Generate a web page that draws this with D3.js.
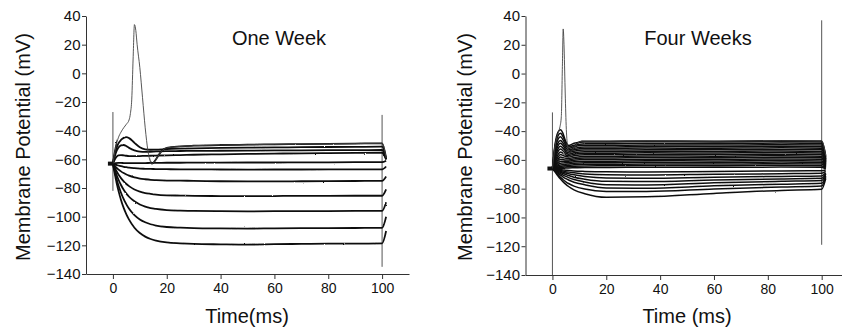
<!DOCTYPE html>
<html>
<head>
<meta charset="utf-8">
<script src="https://cdn.jsdelivr.net/npm/d3@7"></script>
<style>
  body { margin: 0; background: #fff; }
  svg { display: block; font-family: "Liberation Sans", Arial, sans-serif; }
</style>
</head>
<body>
<svg id="chart" width="842" height="328"></svg>
<script>
// ---- One Week: membrane potential (mV) sampled on a shared time grid (ms)
const weekOneTimes = [0, 1, 2, 3, 4, 5, 6, 8, 10, 12, 14, 16, 20, 25, 30, 40, 50, 60, 70, 80, 90, 100, 101.5];
const weekOneTraces = [
  [-63, -54, -49, -46.5, -45, -44.5, -45.2, -48.5, -51.5, -53, -53.3, -53.2, -52.8, -52.5, -52.3, -52, -51.8, -51.7, -51.5, -51.4, -51.3, -51.2, -60],
  [-63, -56, -52, -50.3, -50, -50.8, -52, -53.8, -54.6, -54.8, -54.7, -54.5, -54.3, -54.2, -54.1, -54, -53.9, -53.8, -53.7, -53.6, -53.6, -53.5, -60],
  [-63, -59, -57.2, -57, -57.2, -57.5, -57.7, -57.8, -57.7, -57.6, -57.5, -57.4, -57.2, -57, -56.8, -56.5, -56.2, -56, -55.8, -55.7, -55.5, -55.4, -60],
  [-63, -62.6, -62.5, -62.5, -62.6, -62.7, -62.7, -62.7, -62.6, -62.6, -62.5, -62.5, -62.4, -62.4, -62.3, -62.3, -62.2, -62.2, -62.1, -62.1, -62, -62, -61],
  [-63, -63.7, -64.3, -64.8, -65.2, -65.5, -65.8, -66.2, -66.5, -66.6, -66.7, -66.8, -66.9, -67, -67, -67.1, -67.2, -67.1, -67.1, -67, -67, -67, -65],
  [-63, -65.2, -67, -68.4, -69.6, -70.6, -71.4, -72.6, -73.4, -73.9, -74.3, -74.5, -74.8, -74.9, -75, -75.3, -75.4, -75.4, -75.3, -75.2, -75.1, -75, -72],
  [-63, -67.1, -70.4, -73.1, -75.4, -77.2, -78.7, -81, -82.5, -83.5, -84.1, -84.6, -85.1, -85.3, -85.5, -85.6, -85.7, -85.6, -85.5, -85.5, -85.4, -85.4, -81],
  [-63, -69, -73.9, -77.9, -81.2, -83.9, -86.1, -89.3, -91.5, -93, -94, -94.6, -95.4, -95.8, -96, -96.2, -96.3, -96.2, -96.1, -96.1, -96, -96, -90],
  [-63, -71.1, -77.9, -83.3, -87.8, -91.4, -94.5, -98.9, -101.9, -103.9, -105.3, -106.2, -107.2, -107.7, -108, -108.2, -108.3, -108.1, -108, -108, -107.9, -107.8, -100],
  [-63, -73, -81.5, -88.3, -93.9, -98.4, -102.1, -107.7, -111.4, -113.9, -115.6, -116.7, -118, -118.6, -119, -119.3, -119.5, -119.2, -119, -118.8, -118.8, -118.6, -110]
];
// the trace that fires an action potential, [time, mV]
const weekOneSpike = [
  [0, -63], [1, -52], [2, -45], [3, -41], [4, -38], [5, -35.5], [6, -32.5], [6.5, -28], [7, -18], [7.5, 10],
  [8, 34], [8.5, 30], [9, 20], [10, 4], [11, -17], [12, -38], [13, -54], [14, -62], [14.5, -63], [15, -62.5],
  [16, -60], [17, -57], [18, -54.5], [20, -52], [25, -51], [30, -50.5], [40, -50], [50, -49.8], [60, -49.5],
  [70, -49.4], [80, -49.2], [90, -49], [100, -48.8], [101.5, -59]
];
// stimulus artifacts: [time, top mV, bottom mV]
const weekOneArtifacts = [[0, -27, -82], [100, -29, -135]];
const weekOneHolding = -63;

// ---- Four Weeks
const weekFourTimes = [0, 1, 2, 3, 4, 5, 6, 8, 12, 20, 35, 60, 85, 100, 101.5];
const weekFourTraces = [
  [-66, -49, -41, -39, -42, -47.5, -50, -48.5, -47.5, -47.6, -47.3, -47.5, -47.2, -47.5, -58],
  [-66, -51, -43.5, -41.5, -44, -48.5, -51, -49.8, -48.7, -48.8, -48.5, -48.6, -48.3, -48.6, -59],
  [-66, -53, -46, -44, -46.3, -50, -52, -50.8, -49.8, -49.9, -49.6, -49.7, -49.4, -49.7, -59.5],
  [-66, -55, -48.5, -46.5, -48.5, -51.5, -53, -52, -51, -51, -50.7, -50.8, -50.5, -50.8, -60],
  [-66, -56.5, -50.5, -48.5, -50.2, -53, -54, -53, -52.1, -52.1, -51.8, -51.9, -51.6, -51.9, -60.5],
  [-66, -58, -52.5, -50.5, -52, -54.2, -55, -54, -53.2, -53.2, -52.9, -53, -52.7, -53, -61],
  [-66, -59.5, -54.5, -52.5, -53.8, -55.4, -56, -55.1, -54.3, -54.3, -54, -54.1, -53.8, -54.1, -61.5],
  [-66, -61, -56.5, -54.5, -55.5, -56.6, -57, -56.1, -55.4, -55.4, -55.1, -55.2, -54.9, -55.2, -62],
  [-66, -62, -58.3, -56.3, -57, -57.7, -58, -57.2, -56.5, -56.5, -56.2, -56.3, -56, -56.3, -62.5],
  [-66, -63, -60, -58, -58.5, -58.9, -59, -58.3, -57.6, -57.6, -57.3, -57.4, -57.1, -57.4, -63],
  [-66, -63.6, -61.3, -59.5, -59.8, -60, -60, -59.3, -58.7, -58.7, -58.4, -58.5, -58.2, -58.5, -63.5],
  [-66, -64.2, -62.5, -61, -61, -61, -60.9, -60.3, -59.8, -59.8, -59.5, -59.6, -59.3, -59.6, -64],
  [-66, -64.8, -63.5, -62.3, -62.2, -62, -61.8, -61.3, -60.9, -60.9, -60.6, -60.7, -60.4, -60.7, -64.5],
  [-66, -65.2, -64.3, -63.5, -63.3, -63, -62.8, -62.4, -62, -62, -61.7, -61.8, -61.5, -61.8, -65],
  [-66, -65.5, -65, -64.5, -64.2, -64, -63.8, -63.4, -63.1, -63.1, -62.8, -62.9, -62.6, -62.9, -65.5],
  [-66, -65.8, -65.5, -65.3, -65.1, -64.9, -64.7, -64.4, -64.2, -64.1, -63.9, -64, -63.7, -64, -66],
  [-66, -66, -66, -65.9, -65.8, -65.7, -65.6, -65.5, -65.3, -65.3, -65.1, -65.2, -65, -65.2, -66.5],
  [-66, -66.3, -66.6, -66.8, -67, -67.2, -67.4, -67.7, -68, -68.3, -68.4, -68, -67.7, -67.5, -67],
  [-66, -66.6, -67, -67.4, -67.8, -68.2, -68.5, -69, -69.8, -70.4, -70.5, -70, -69.6, -69.3, -68],
  [-66, -66.8, -67.4, -68, -68.6, -69.1, -69.6, -70.4, -71.5, -72.6, -72.8, -72, -71.5, -71.2, -69],
  [-66, -67, -67.9, -68.7, -69.5, -70.2, -70.9, -72, -73.4, -74.9, -75.1, -74, -73.2, -72.8, -69.5],
  [-66, -67.3, -68.5, -69.6, -70.6, -71.5, -72.3, -73.6, -75.3, -77.2, -77.4, -75.9, -74.9, -74.4, -70],
  [-66, -67.6, -69.2, -70.6, -71.9, -73, -74, -75.5, -77.3, -79.5, -79.7, -78, -76.9, -76.3, -71],
  [-66, -68, -70.2, -72.1, -73.8, -75.2, -76.4, -78.2, -80.3, -81.9, -82, -80.2, -78.8, -78.1, -72],
  [-66, -68.5, -71, -73.3, -75.3, -77, -78.5, -80.8, -83.5, -86, -85.7, -83.3, -81.2, -80.4, -73]
];
const weekFourSpike = [
  [0, -66], [1, -50], [2, -42], [2.8, -37], [3.3, -30], [3.7, 5], [4, 31], [4.3, 20], [4.7, -10], [5.1, -36],
  [5.6, -50], [6.3, -55], [7.5, -53], [9, -49], [11, -47], [20, -47], [35, -46.8], [60, -47], [85, -46.7],
  [100, -46.8], [101.5, -57]
];
const weekFourArtifacts = [[0, -27, -140], [100, 37, -119]];
const weekFourHolding = -66;

const timeTicks = [0, 20, 40, 60, 80, 100];
const voltTicks = [-140, -120, -100, -80, -60, -40, -20, 0, 20, 40];

const svg = d3.select("#chart");

// light grain so the traces look like scanned recordings
const defs = svg.append("defs");
const grain = defs.append("filter").attr("id", "grain")
  .attr("x", "-2%").attr("y", "-10%").attr("width", "104%").attr("height", "120%");
grain.append("feTurbulence").attr("type", "fractalNoise").attr("baseFrequency", 1.1)
  .attr("numOctaves", 1).attr("seed", 7).attr("result", "noise");
grain.append("feDisplacementMap").attr("in", "SourceGraphic").attr("in2", "noise")
  .attr("scale", 1.8).attr("xChannelSelector", "R").attr("yChannelSelector", "G");

function drawPanel(p) {
  const x = d3.scaleLinear().domain([-10, 110]).range(p.xRange);
  const y = d3.scaleLinear().domain([-140, 40]).range(p.yRange);
  const g = svg.append("g");

  // axes
  const xAxis = g.append("g")
    .attr("transform", `translate(0,${p.yRange[0]})`)
    .call(d3.axisBottom(x).tickValues(timeTicks).tickSize(5).tickSizeOuter(0).tickPadding(4));
  const yAxis = g.append("g")
    .attr("transform", `translate(${p.xRange[0]},0)`)
    .call(d3.axisLeft(y).tickValues(voltTicks).tickSize(4).tickSizeOuter(0).tickPadding(1.5));
  [xAxis, yAxis].forEach(a => {
    a.select(".domain").attr("stroke", "#333");
    a.selectAll(".tick line").attr("stroke", "#333");
    a.selectAll("text").attr("fill", "#111");
  });
  xAxis.selectAll("text").style("font-size", "14px");
  yAxis.selectAll("text").style("font-size", "15px");

  // stimulus artifacts
  g.append("g").selectAll("line").data(p.artifacts).join("line")
    .attr("x1", d => x(d[0])).attr("x2", d => x(d[0]))
    .attr("y1", d => y(d[1])).attr("y2", d => y(d[2]))
    .attr("stroke", "#555").attr("stroke-width", 1);

  const line = d3.line()
    .x((d, i) => x(p.times[i]))
    .y(d => y(d))
    .curve(d3.curveMonotoneX);

  const traces = g.append("g").attr("filter", "url(#grain)");
  traces.selectAll("path.trace").data(p.traces).join("path")
    .attr("class", "trace")
    .attr("d", line)
    .attr("fill", "none")
    .attr("stroke", "#111")
    .attr("stroke-width", p.width);

  // spike: thin over the fast part, thick where it sits on the plateau
  const spikeLine = d3.line().x(d => x(d[0])).y(d => y(d[1])).curve(d3.curveMonotoneX);
  const clipId = p.id + "-clip";
  const clip = defs.append("clipPath").attr("id", clipId);
  clip.append("rect").attr("x", x(p.thin[1])).attr("y", 0)
    .attr("width", x(110) - x(p.thin[1])).attr("height", 328);
  clip.append("rect").attr("x", x(-10)).attr("y", 0)
    .attr("width", x(p.thin[0]) - x(-10)).attr("height", 328);
  g.append("path").datum(p.spike)
    .attr("d", spikeLine).attr("fill", "none")
    .attr("stroke", "#444").attr("stroke-width", 0.9);
  traces.append("path").datum(p.spike)
    .attr("d", spikeLine).attr("fill", "none")
    .attr("clip-path", `url(#${clipId})`)
    .attr("stroke", "#111").attr("stroke-width", p.width);

  // holding potential marker
  g.append("rect")
    .attr("x", x(0) - 5).attr("y", y(p.holding) - 2)
    .attr("width", 5).attr("height", 4).attr("fill", "#111");

  // labels
  g.append("text")
    .attr("x", p.titleX).attr("y", 45)
    .attr("text-anchor", "middle").style("font-size", "20px").attr("fill", "#111")
    .text(p.title);
  g.append("text")
    .attr("x", p.xLabelX).attr("y", 323)
    .attr("text-anchor", "middle").style("font-size", "20px").attr("fill", "#111")
    .text(p.xLabel);
  g.append("text")
    .attr("transform", `translate(${p.yLabelX},147) rotate(-90)`)
    .attr("text-anchor", "middle").style("font-size", "20px").attr("fill", "#111")
    .text("Membrane Potential (mV)");
}

drawPanel({
  id: "one", title: "One Week", xLabel: "Time(ms)",
  times: weekOneTimes, traces: weekOneTraces, spike: weekOneSpike,
  artifacts: weekOneArtifacts, holding: weekOneHolding,
  xRange: [86, 409], yRange: [274, 16], thin: [1.5, 14],
  width: 1.8, titleX: 279, xLabelX: 247, yLabelX: 30
});

drawPanel({
  id: "four", title: "Four Weeks", xLabel: "Time (ms)",
  times: weekFourTimes, traces: weekFourTraces, spike: weekFourSpike,
  artifacts: weekFourArtifacts, holding: weekFourHolding,
  xRange: [525.5, 848.6], yRange: [275, 16], thin: [2, 6],
  width: 1.5, titleX: 698, xLabelX: 687, yLabelX: 472
});
</script>
</body>
</html>
